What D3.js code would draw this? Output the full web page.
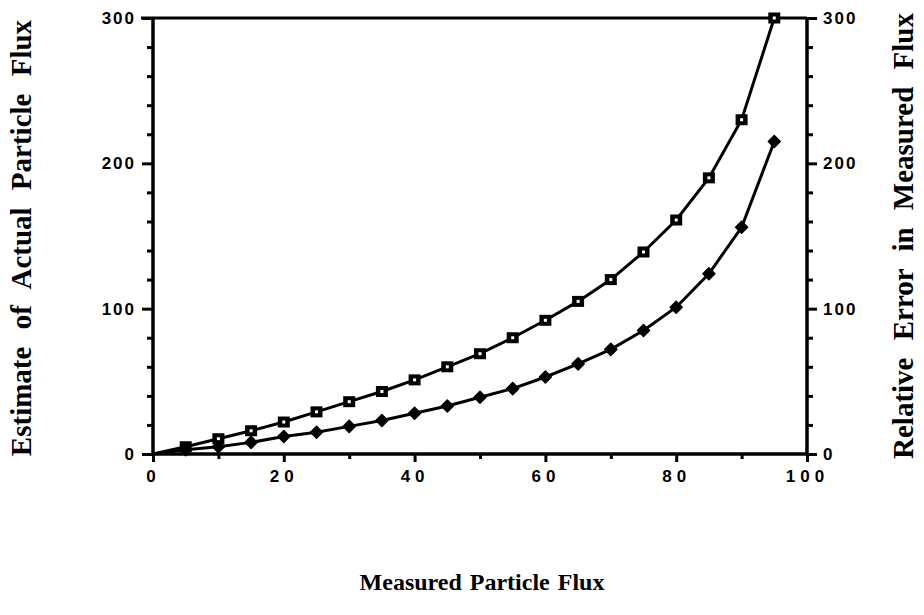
<!DOCTYPE html>
<html>
<head>
<meta charset="utf-8">
<script src="https://cdn.jsdelivr.net/npm/d3@7"></script>
<style>
  html, body { margin: 0; padding: 0; background: #fff; }
  svg { display: block; }
  .tick text { font-family: "Liberation Sans", Arial, sans-serif; font-size: 17px; font-weight: bold; fill: #000; letter-spacing: 2px; }
  .xaxis .tick text { letter-spacing: 5px; }
  .axtitle { font-family: "Liberation Serif", "Times New Roman", serif; font-weight: bold; font-size: 29px; fill: #000; word-spacing: 10px; }
  .xtitle { font-size: 24px; word-spacing: 2px; }
</style>
</head>
<body>
<svg id="chart" width="924" height="615"></svg>
<script>
// ---- data ----
const measured = [0, 5, 10, 15, 20, 25, 30, 35, 40, 45, 50, 55, 60, 65, 70, 75, 80, 85, 90, 95];
const actualEstimate = [0, 5, 10.5, 16, 22, 29, 36, 43, 51, 60, 69, 80, 92, 105, 120, 139, 161, 190, 230, 300];
const relativeError = [0, 3, 5, 8, 12, 15, 19, 23, 28, 33, 39, 45, 53, 62, 72, 85, 101, 124, 156, 215];
const xTicks = [0, 20, 40, 60, 80, 100];
const yTicks = [0, 100, 200, 300];
const xLabel = "Measured Particle Flux";
const yLabelLeft = "Estimate of Actual Particle Flux";
const yLabelRight = "Relative Error in Measured Flux";

const svg = d3.select("#chart");
const L = 153, R = 807, T = 18, B = 454;

const x = d3.scaleLinear().domain([0, 100]).range([L, R]);
const yL = d3.scaleLinear().domain([0, 300]).range([B, T]);
const yR = d3.scaleLinear().domain([0, 300]).range([B, T]);

// minor ticks
const yMinor = d3.range(0, 301, 20).filter(v => v % 100 !== 0);
const xMinor = d3.range(0, 101, 10).filter(v => v % 20 !== 0);

// left axis
const gL = svg.append("g").attr("transform", `translate(${L},0)`)
  .call(d3.axisLeft(yL).tickValues(yTicks).tickSize(11).tickPadding(6).tickFormat(d3.format("d")));
gL.append("g").call(d3.axisLeft(yL).tickValues(yMinor).tickSize(6).tickFormat(""));

// right axis
const gR = svg.append("g").attr("transform", `translate(${R},0)`)
  .call(d3.axisRight(yR).tickValues(yTicks).tickSize(10).tickPadding(6).tickFormat(d3.format("d")));
gR.append("g").call(d3.axisRight(yR).tickValues(yMinor).tickSize(6).tickFormat(""));

// bottom axis
const gB = svg.append("g").attr("class", "xaxis").attr("transform", `translate(0,${B})`)
  .call(d3.axisBottom(x).tickValues(xTicks).tickSize(8).tickPadding(8).tickFormat(d3.format("d")));
gB.append("g").call(d3.axisBottom(x).tickValues(xMinor).tickSize(5).tickFormat(""));

svg.selectAll(".domain").attr("stroke", "#000").attr("stroke-width", 3);
svg.selectAll(".tick line").attr("stroke", "#000").attr("stroke-width", 3);
gL.selectAll(".domain").attr("d", `M0,${B}V${T}`);
gR.selectAll(".domain").attr("d", `M0,${B}V${T}`);
gB.selectAll(".domain").attr("d", `M${L},0H${R}`);

// top line
svg.append("line").attr("x1", L - 12).attr("x2", R).attr("y1", T).attr("y2", T)
  .attr("stroke", "#000").attr("stroke-width", 3);

// lines
const lineA = d3.line().x((d, i) => x(measured[i])).y(d => yL(d));
const lineE = d3.line().x((d, i) => x(measured[i])).y(d => yR(d));
svg.append("path").attr("d", lineA(actualEstimate)).attr("fill", "none").attr("stroke", "#000").attr("stroke-width", 3);
svg.append("path").attr("d", lineE(relativeError)).attr("fill", "none").attr("stroke", "#000").attr("stroke-width", 3);

// square markers (thick-bordered square with small white centre)
const sq = svg.append("g");
actualEstimate.forEach((v, i) => {
  if (measured[i] === 0) return;
  const cx = x(measured[i]), cy = yL(v);
  sq.append("rect").attr("x", cx - 6).attr("y", cy - 5.5).attr("width", 12).attr("height", 11).attr("fill", "#000");
  sq.append("rect").attr("x", cx - 1.5).attr("y", cy - 1.5).attr("width", 3).attr("height", 3).attr("fill", "#fff");
});

// diamond markers
const dm = svg.append("g");
relativeError.forEach((v, i) => {
  if (measured[i] === 0) return;
  const cx = x(measured[i]), cy = yR(v);
  dm.append("path").attr("d", d3.symbol().type(d3.symbolSquare).size(72)())
    .attr("transform", `translate(${cx},${cy}) rotate(45)`).attr("fill", "#000")
    .attr("stroke", "#000").attr("stroke-width", 1.5).attr("stroke-linejoin", "round");
});

// axis titles
svg.append("text").attr("class", "axtitle xtitle").attr("text-anchor", "middle")
  .attr("x", 482).attr("y", 590).text(xLabel);
svg.append("text").attr("class", "axtitle").attr("text-anchor", "middle")
  .attr("transform", `translate(31,238) rotate(-90)`).text(yLabelLeft);
svg.append("text").attr("class", "axtitle").attr("text-anchor", "middle")
  .attr("transform", `translate(913,236) rotate(-90)`).text(yLabelRight);
</script>
</body>
</html>
